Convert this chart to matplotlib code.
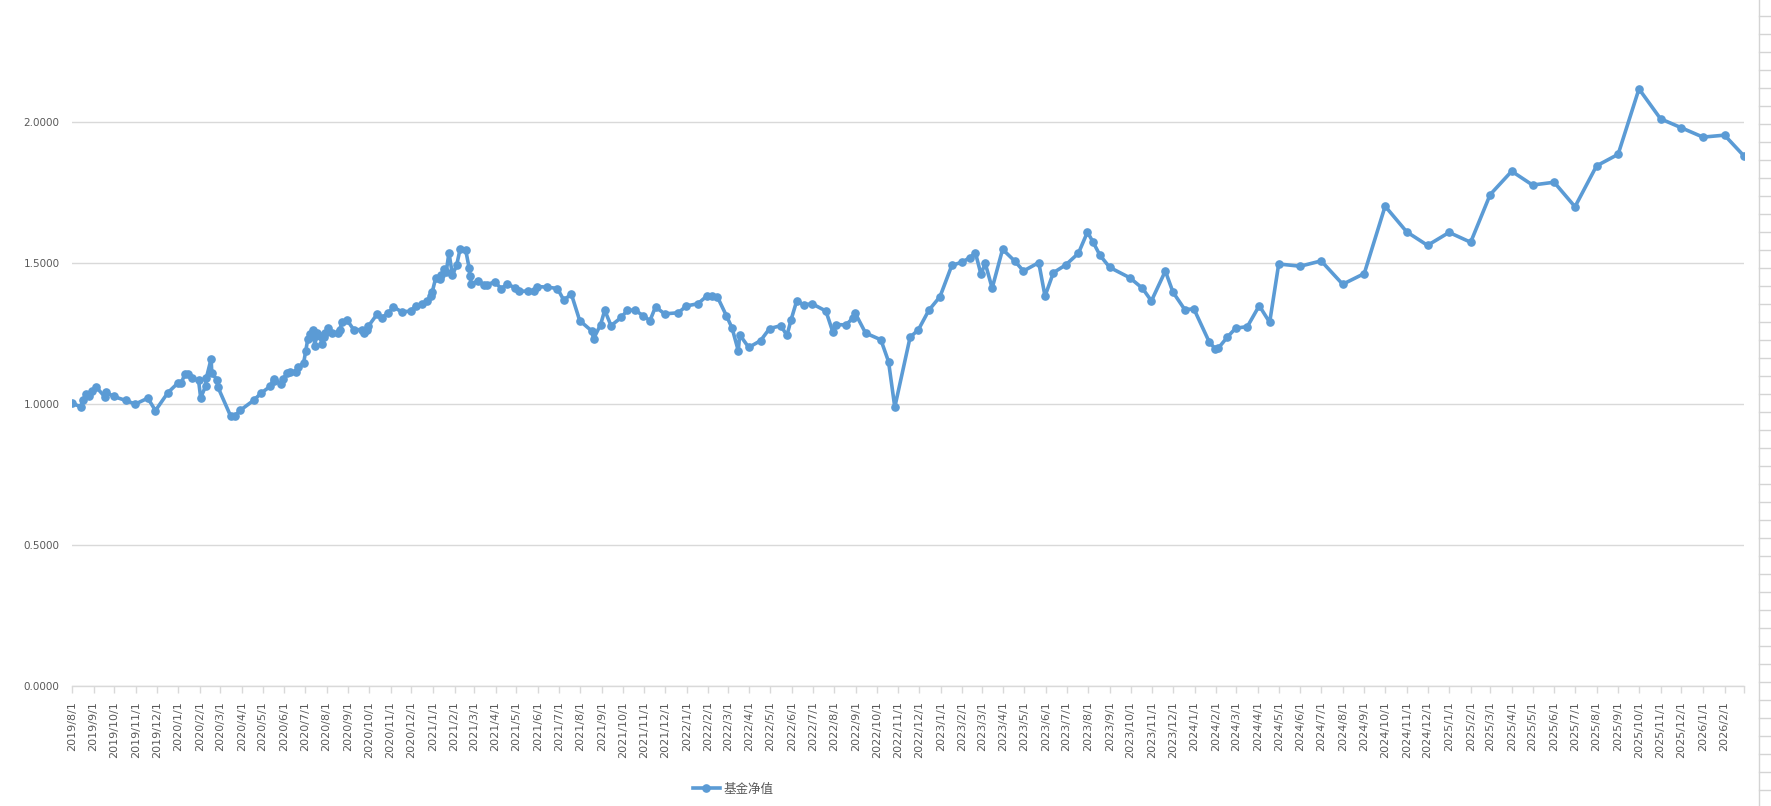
import numpy as np
import pandas as pd
import matplotlib
matplotlib.use('Agg')
import matplotlib.pyplot as plt
from matplotlib.lines import Line2D

plt.rcParams['font.family'] = ['DejaVu Sans', 'Noto Sans CJK SC']

# values
series_name = '基金净值'

dates = [
    '2019-08-01', '2019-08-14', '2019-08-17', '2019-08-21', '2019-08-26', '2019-08-30',
    '2019-09-05', '2019-09-17', '2019-09-19', '2019-09-30', '2019-10-17', '2019-10-31',
    '2019-11-18', '2019-11-29', '2019-12-17', '2019-12-31',
    '2020-01-05', '2020-01-10', '2020-01-15', '2020-01-21', '2020-01-30',
    '2020-02-02', '2020-02-09', '2020-02-10', '2020-02-17', '2020-02-18', '2020-02-25', '2020-02-27',
    '2020-03-16', '2020-03-22', '2020-03-30', '2020-04-18', '2020-04-29',
    '2020-05-12', '2020-05-17', '2020-05-18', '2020-05-28', '2020-05-31',
    '2020-06-05', '2020-06-10', '2020-06-18', '2020-06-21', '2020-06-29',
    '2020-07-02', '2020-07-05', '2020-07-08', '2020-07-12', '2020-07-14', '2020-07-15',
    '2020-07-18', '2020-07-22', '2020-07-26', '2020-07-28', '2020-07-30',
    '2020-08-03', '2020-08-09', '2020-08-18', '2020-08-20', '2020-08-23', '2020-08-30',
    '2020-09-09', '2020-09-21', '2020-09-24', '2020-09-28', '2020-09-30',
    '2020-10-13', '2020-10-19', '2020-10-29', '2020-11-05', '2020-11-17', '2020-11-30',
    '2020-12-07', '2020-12-16', '2020-12-24', '2020-12-29', '2020-12-31',
    '2021-01-05', '2021-01-11', '2021-01-13', '2021-01-17', '2021-01-20', '2021-01-24', '2021-01-29',
    '2021-02-04', '2021-02-09', '2021-02-17', '2021-02-22', '2021-02-23', '2021-02-25',
    '2021-03-07', '2021-03-15', '2021-03-19', '2021-03-31',
    '2021-04-09', '2021-04-18', '2021-04-29', '2021-05-05', '2021-05-18', '2021-05-26', '2021-05-30',
    '2021-06-14', '2021-06-29', '2021-07-08', '2021-07-19', '2021-07-31',
    '2021-08-17', '2021-08-20', '2021-08-30', '2021-09-05', '2021-09-14', '2021-09-29',
    '2021-10-07', '2021-10-18', '2021-10-30', '2021-11-09', '2021-11-17', '2021-11-30',
    '2021-12-20', '2021-12-31',
    '2022-01-17', '2022-01-30', '2022-02-06', '2022-02-14', '2022-02-27',
    '2022-03-07', '2022-03-16', '2022-03-18', '2022-03-31', '2022-04-17', '2022-04-30',
    '2022-05-16', '2022-05-25', '2022-05-31', '2022-06-08', '2022-06-18', '2022-06-30',
    '2022-07-20', '2022-07-30', '2022-08-03', '2022-08-18', '2022-08-28', '2022-08-31',
    '2022-09-15', '2022-10-07', '2022-10-18', '2022-10-27', '2022-11-18', '2022-11-30',
    '2022-12-15', '2022-12-31',
    '2023-01-17', '2023-01-31', '2023-02-12', '2023-02-20', '2023-02-28',
    '2023-03-06', '2023-03-16', '2023-03-31', '2023-04-18', '2023-04-30',
    '2023-05-22', '2023-05-31', '2023-06-12', '2023-06-30', '2023-07-18', '2023-07-31',
    '2023-08-08', '2023-08-18', '2023-09-01', '2023-09-30', '2023-10-18', '2023-10-31',
    '2023-11-20', '2023-12-01', '2023-12-18', '2023-12-31',
    '2024-01-22', '2024-01-31', '2024-02-04', '2024-02-17', '2024-02-29',
    '2024-03-17', '2024-04-03', '2024-04-18', '2024-05-01', '2024-06-01', '2024-07-01',
    '2024-08-01', '2024-09-01', '2024-10-01', '2024-11-01', '2024-12-01',
    '2025-01-01', '2025-02-01', '2025-03-01', '2025-04-01', '2025-05-01', '2025-06-01',
    '2025-07-01', '2025-08-01', '2025-09-01', '2025-10-01', '2025-11-01', '2025-12-01',
    '2026-01-01', '2026-02-01', '2026-03-01',
]

nav = [
    1.002, 0.989, 1.014, 1.034, 1.026, 1.046,
    1.059, 1.025, 1.041, 1.026, 1.012, 0.999,
    1.020, 0.976, 1.040, 1.073,
    1.073, 1.104, 1.105, 1.090, 1.083,
    1.021, 1.062, 1.090, 1.159, 1.111, 1.086, 1.058,
    0.957, 0.957, 0.977, 1.012, 1.038,
    1.062, 1.082, 1.088, 1.070, 1.088,
    1.109, 1.114, 1.114, 1.129, 1.145,
    1.186, 1.230, 1.249, 1.261, 1.237, 1.204,
    1.251, 1.239, 1.213, 1.237, 1.251,
    1.269, 1.251, 1.251, 1.263, 1.289, 1.299,
    1.263, 1.263, 1.251, 1.263, 1.275,
    1.319, 1.305, 1.322, 1.344, 1.326, 1.329,
    1.347, 1.354, 1.363, 1.384, 1.397,
    1.447, 1.443, 1.457, 1.479, 1.467, 1.536, 1.457,
    1.491, 1.549, 1.546, 1.482, 1.453, 1.425,
    1.436, 1.423, 1.423, 1.432,
    1.409, 1.424, 1.412, 1.399, 1.400, 1.400, 1.416,
    1.414, 1.409, 1.368, 1.389, 1.295,
    1.259, 1.231, 1.281, 1.332, 1.277, 1.307,
    1.331, 1.333, 1.313, 1.295, 1.344, 1.319,
    1.323, 1.347,
    1.355, 1.383, 1.383, 1.379, 1.312,
    1.269, 1.188, 1.245, 1.200, 1.224, 1.267,
    1.277, 1.243, 1.299, 1.365, 1.351, 1.355,
    1.329, 1.254, 1.281, 1.280, 1.305, 1.322,
    1.251, 1.227, 1.150, 0.988, 1.236, 1.263,
    1.332, 1.380,
    1.491, 1.502, 1.518, 1.535, 1.459,
    1.499, 1.410, 1.548, 1.505, 1.471,
    1.501, 1.382, 1.465, 1.493, 1.534, 1.609,
    1.574, 1.527, 1.484, 1.447, 1.410, 1.365,
    1.471, 1.396, 1.334, 1.337,
    1.220, 1.194, 1.197, 1.236, 1.268,
    1.274, 1.348, 1.289, 1.496, 1.488, 1.507,
    1.424, 1.462, 1.701, 1.610, 1.562,
    1.608, 1.573, 1.742, 1.825, 1.776, 1.786,
    1.699, 1.844, 1.885, 2.117, 2.011, 1.979,
    1.946, 1.953, 1.879,
]

y_ticks = [0.0, 0.5, 1.0, 1.5, 2.0]
x_start = '2019-08-01'
x_end = '2026-03-01'

df = pd.DataFrame({'date': pd.to_datetime(dates), 'nav': nav})

W, H = 1771, 806
fig = plt.figure(figsize=(W / 100, H / 100), dpi=100)
ax = fig.add_axes([72 / W, (H - 685.7) / H, (1744 - 72) / W, 685.7 / H])

ax.plot(df['date'], df['nav'], color='#5B9BD5', lw=2.6, marker='o', ms=5.2,
        label=series_name, solid_joinstyle='round', zorder=3)

ax.set_xlim(pd.Timestamp(x_start), pd.Timestamp(x_end))
ax.set_ylim(0, 685.7 / 281.9)
ax.set_yticks(y_ticks)
ax.set_yticklabels([f'{v:.4f}' for v in y_ticks])

months = pd.date_range(x_start, x_end, freq='MS')
ax.set_xticks(months)
ax.set_xticklabels([f'{d.year}/{d.month}/1' for d in months[:-1]] + [''],
                   rotation=90, ha='center', va='top')

grid_c = '#D9D9D9'
text_c = '#595959'
ax.grid(axis='y', color=grid_c, lw=1)
ax.set_axisbelow(True)
for s in ['top', 'right', 'left']:
    ax.spines[s].set_visible(False)
ax.spines['bottom'].set_color(grid_c)
ax.spines['bottom'].set_linewidth(1)

ax.tick_params(axis='x', length=5, width=1, color=grid_c, labelsize=8,
               labelcolor=text_c, pad=6)
ax.tick_params(axis='y', length=0, labelsize=7.5, labelcolor=text_c, pad=9)

fig.legend(loc='center', bbox_to_anchor=(0.414, 0.021), frameon=False,
           prop={'family': ['Noto Sans CJK SC', 'DejaVu Sans'], 'size': 9},
           labelcolor=text_c, handlelength=2.2, handletextpad=0.3)

# spreadsheet cell borders visible at the right edge
cell_c = '#D4D4D4'
fig.add_artist(Line2D([1759 / W, 1759 / W], [0, 1], transform=fig.transFigure,
                      color=cell_c, lw=1))
for yy in np.arange(16, H, 18):
    fig.add_artist(Line2D([1759 / W, 1], [1 - yy / H, 1 - yy / H],
                          transform=fig.transFigure, color=cell_c, lw=1))

fig.savefig('out.png', dpi=100)
